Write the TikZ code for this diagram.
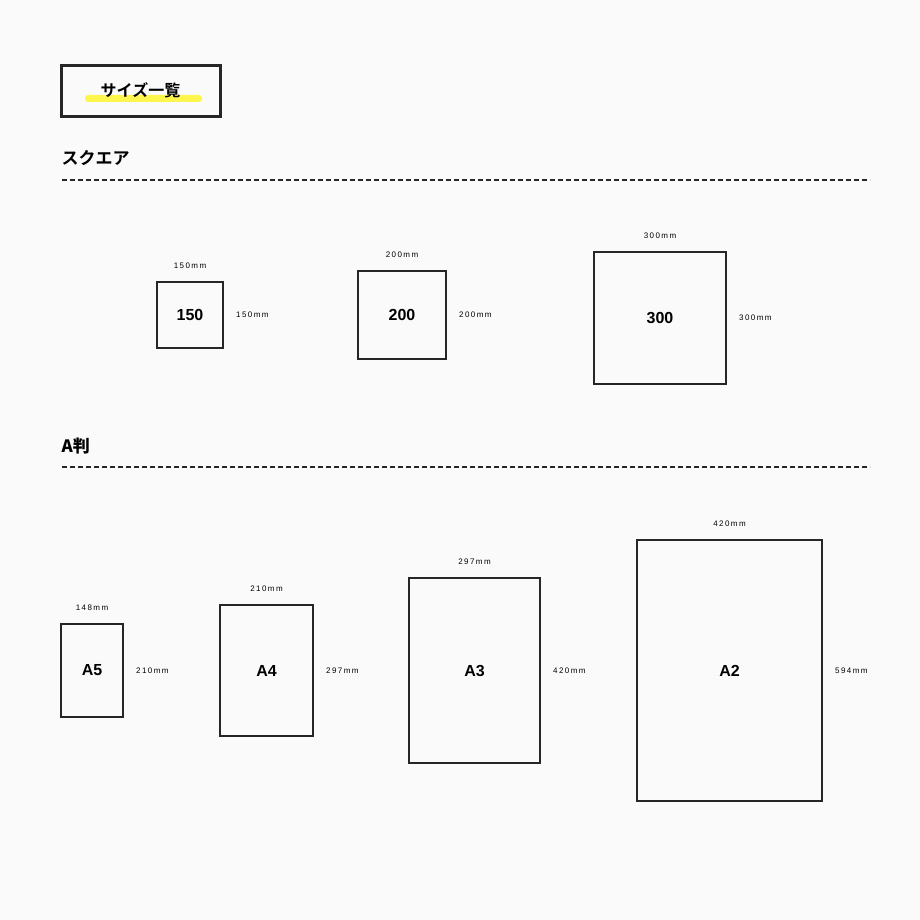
\documentclass[tikz,border=0pt]{standalone}
\usepackage{fontspec}
\setmainfont{Liberation Sans}
\newfontfamily\jp{Noto Sans CJK JP}
\newfontfamily\jpb{Noto Sans CJK JP Bold}
\newfontfamily\dimfont[LetterSpace=18]{Liberation Sans}
\begin{document}
\begin{tikzpicture}[x=1pt,y=-1pt,
  frame/.style={draw=black!85,line width=2pt},
  big/.style={font=\bfseries\fontsize{16}{18}\selectfont},
  dim/.style={font=\dimfont\fontsize{8}{9}\selectfont,inner sep=0pt},
  head/.style={font=\jpb\fontsize{17}{20}\selectfont,anchor=west},
  sep/.style={draw=black!85,line width=2.5pt,dash pattern=on 5pt off 3pt}]
\fill[black!2] (0,0) rectangle (920,920);
\useasboundingbox (0,0) rectangle (920,920);
\fill[yellow!70!white,rounded corners=3pt] (85,95) rectangle (202,102);
\node[draw=black!85,line width=3pt,minimum width=159pt,minimum height=51pt] (title) at (140.5,91.5) {};
\node[font=\jpb\fontsize{16}{18}\selectfont] (tt) at (140.5,90) {サイズ一覧};
\node[head] (sq) at (58,158) {スクエア};
\coordinate (s1) at (62,180); \coordinate (s2) at (870,180);
\draw[sep] (s1) -- (s2);
\node[head] (ah) at (58,446) {\bfseries A\jpb 判};
\coordinate (a1) at (62,467); \coordinate (a2) at (870,467);
\draw[sep] (a1) -- (a2);
\foreach \n/\xa/\ya/\xb/\yb/\txt/\w/\h in {
 q150/157/282/223/348/150/150mm/150mm,
 q200/358/271/446/359/200/200mm/200mm,
 q300/594/252/726/384/300/300mm/300mm,
 pa5/61/624/123/717/A5/148mm/210mm,
 pa4/220/605/313/736/A4/210mm/297mm,
 pa3/409/578/540/763/A3/297mm/420mm,
 pa2/637/540/822/801/A2/420mm/594mm}{
  \node[frame,big,inner sep=0pt,minimum width={\xb-\xa},minimum height={\yb-\ya}] (\n) at ({(\xa+\xb)/2},{(\ya+\yb)/2}) {\txt};
  \node[dim,anchor=south] (\n t) at ([yshift=12pt]\n.north) {\w};
  \node[dim,anchor=west] (\n r) at ([xshift=12pt]\n.east) {\h};
}
\end{tikzpicture}
\end{document}
